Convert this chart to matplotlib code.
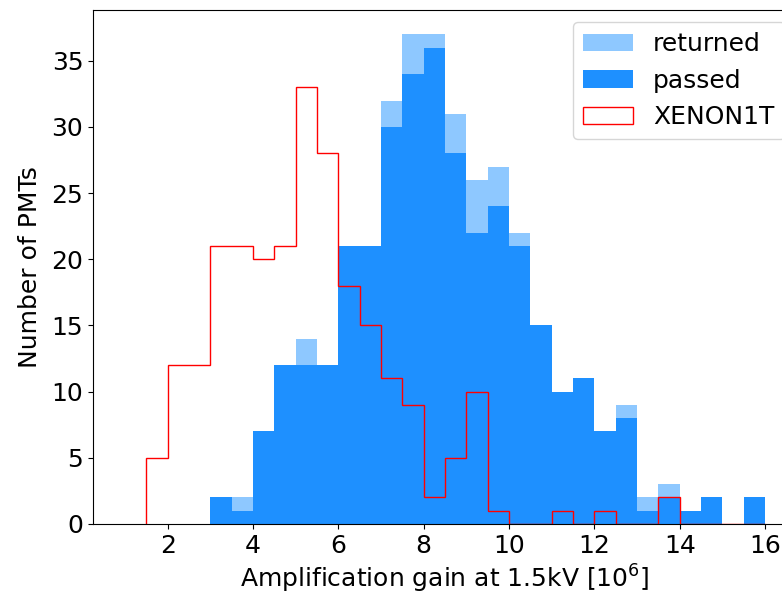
import numpy as np
import matplotlib
matplotlib.use("Agg")
import matplotlib.pyplot as plt

# bin edges (gain in 1e6), width 0.5 from 1.0 to 16.0
bin_edges = np.arange(1.0, 16.01, 0.5)
xenon_edges = np.arange(1.5, 16.01, 0.5)

passed = [0, 0, 0, 0, 2, 1, 7, 12, 12, 12, 21, 21, 30, 34, 36, 28, 22, 24,
          21, 15, 10, 11, 7, 8, 1, 2, 1, 2, 0, 2]
returned = [0, 0, 0, 0, 0, 1, 0, 0, 2, 0, 0, 0, 2, 3, 1, 3, 4, 3,
            1, 0, 0, 0, 0, 1, 1, 1, 0, 0, 0, 0]
xenon1t = [5, 12, 12, 21, 21, 20, 21, 33, 28, 18, 15, 11, 9, 2, 5, 10, 1,
           0, 0, 1, 0, 1, 0, 0, 2, 0, 0, 0, 0]

centers = 0.5 * (bin_edges[:-1] + bin_edges[1:])
xcenters = 0.5 * (xenon_edges[:-1] + xenon_edges[1:])

fig = plt.figure(figsize=(7.82, 5.96), dpi=100)
ax = fig.add_axes([0.119, 0.121, 0.9003, 0.8624])

ax.hist([centers, centers], bins=bin_edges,
        weights=[passed, returned], stacked=True,
        color=["#1E90FF", "#8EC8FF"],
        label=["passed", "returned"])
ax.hist(xcenters, bins=xenon_edges, weights=xenon1t, histtype="step",
        color="red", linewidth=1.0, label="XENON1T")

fs = 18
ax.set_xlim(0.25, 16.75)
ax.set_ylim(0, 38.85)
ax.set_xticks([2, 4, 6, 8, 10, 12, 14, 16])
ax.set_yticks([0, 5, 10, 15, 20, 25, 30, 35])
ax.tick_params(labelsize=fs)
ax.set_xlabel("Amplification gain at 1.5kV [$10^6$]", fontsize=fs)
ax.set_ylabel("Number of PMTs", fontsize=fs, labelpad=7)

handles, labels = ax.get_legend_handles_labels()
order = [labels.index("returned"), labels.index("passed"), labels.index("XENON1T")]
ax.legend([handles[i] for i in order], [labels[i] for i in order],
          loc="upper right", fontsize=fs)

fig.savefig("out.png", dpi=100)
